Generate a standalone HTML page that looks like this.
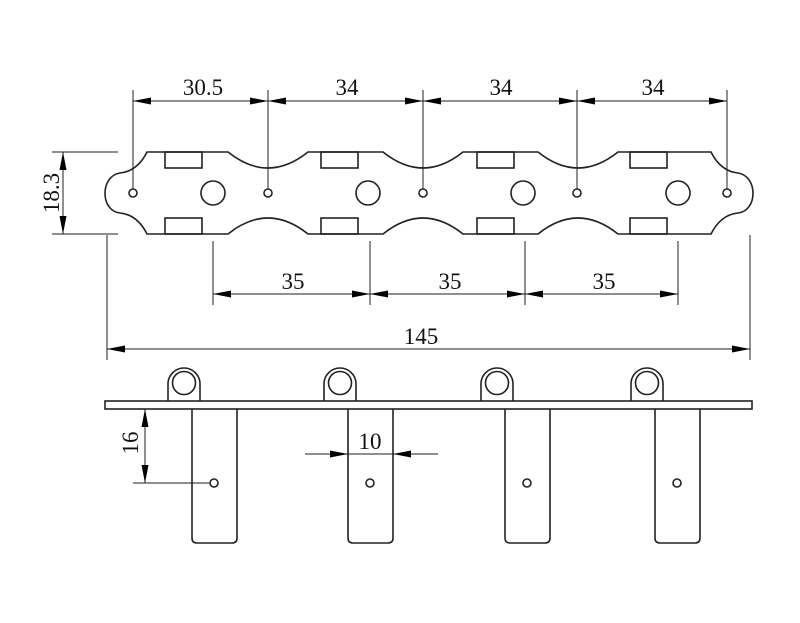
<!DOCTYPE html>
<html><head><style>html,body{margin:0;padding:0;background:#fff}svg{display:block}</style></head><body>
<svg width="800" height="623" viewBox="0 0 800 623" xmlns="http://www.w3.org/2000/svg">
<defs>
<marker id="a" viewBox="0 0 10 10" refX="10" refY="5" markerWidth="18" markerHeight="7" markerUnits="userSpaceOnUse" preserveAspectRatio="none" orient="auto-start-reverse"><path d="M0,0 L10,5 L0,10 Z" fill="#000"/></marker>
</defs>
<g fill="none" stroke="#222" stroke-width="1.6">
<path d="M147,152 L228,152 Q268,184 308,152 L383,152 Q423,184 463,152 L538,152 Q578,184 618,152 L711,152 C718,166 728,172 738,173 C758,176 758,211 738,213 C728,214 718,220 711,234 L618,234 Q578,202 538,234 L463,234 Q423,202 383,234 L308,234 Q268,202 228,234 L147,234 C140,220 130,214 120,213 C100,211 100,176 120,173 C130,172 140,166 147,152 Z"/>
<circle cx="133" cy="193" r="4"/><circle cx="268" cy="193" r="4"/><circle cx="423" cy="193" r="4"/><circle cx="577" cy="193" r="4"/><circle cx="727" cy="193" r="4"/>
<circle cx="213" cy="193" r="12"/><circle cx="368" cy="193" r="12"/><circle cx="523" cy="193" r="12"/><circle cx="678" cy="193" r="12"/>
<rect x="165" y="152" width="37" height="16"/><rect x="321" y="152" width="37" height="16"/><rect x="477" y="152" width="37" height="16"/><rect x="630" y="152" width="37" height="16"/>
<rect x="165" y="218" width="37" height="16"/><rect x="321" y="218" width="37" height="16"/><rect x="477" y="218" width="37" height="16"/><rect x="630" y="218" width="37" height="16"/>
<rect x="105" y="401" width="647" height="8"/>
<g id="k">
<path d="M192,409 L192,538 Q192,543 197,543 L232,543 Q237,543 237,538 L237,409"/>
<path d="M168,401 L168,384 A16,16 0 0 1 200,384 L200,401"/>
<circle cx="184" cy="383" r="11.5"/>
<circle cx="214" cy="483" r="4"/>
</g>
<use href="#k" x="156"/><use href="#k" x="313"/><use href="#k" x="463"/>
</g>
<g stroke="#222" stroke-width="1" fill="none">
<line x1="133" y1="90" x2="133" y2="189"/><line x1="268" y1="90" x2="268" y2="189"/><line x1="423" y1="90" x2="423" y2="189"/><line x1="577" y1="90" x2="577" y2="189"/><line x1="727" y1="90" x2="727" y2="189"/>
<line x1="133" y1="101" x2="268" y2="101" marker-start="url(#a)" marker-end="url(#a)"/>
<line x1="268" y1="101" x2="423" y2="101" marker-start="url(#a)" marker-end="url(#a)"/>
<line x1="423" y1="101" x2="577" y2="101" marker-start="url(#a)" marker-end="url(#a)"/>
<line x1="577" y1="101" x2="727" y2="101" marker-start="url(#a)" marker-end="url(#a)"/>
<line x1="52" y1="152" x2="118" y2="152"/><line x1="52" y1="234" x2="118" y2="234"/>
<line x1="63" y1="152" x2="63" y2="234" marker-start="url(#a)" marker-end="url(#a)"/>
<line x1="213" y1="241" x2="213" y2="305"/><line x1="370" y1="241" x2="370" y2="305"/><line x1="525" y1="241" x2="525" y2="305"/><line x1="678" y1="241" x2="678" y2="305"/>
<line x1="213" y1="294" x2="370" y2="294" marker-start="url(#a)" marker-end="url(#a)"/>
<line x1="370" y1="294" x2="525" y2="294" marker-start="url(#a)" marker-end="url(#a)"/>
<line x1="525" y1="294" x2="678" y2="294" marker-start="url(#a)" marker-end="url(#a)"/>
<line x1="107" y1="235" x2="107" y2="360"/><line x1="750" y1="235" x2="750" y2="360"/>
<line x1="107" y1="349" x2="750" y2="349" marker-start="url(#a)" marker-end="url(#a)"/>
<line x1="133" y1="483" x2="209" y2="483"/>
<line x1="145" y1="409" x2="145" y2="483" marker-start="url(#a)" marker-end="url(#a)"/>
<line x1="305" y1="454" x2="348" y2="454" marker-end="url(#a)"/>
<line x1="438" y1="454" x2="393" y2="454" marker-end="url(#a)"/>
<line x1="348" y1="454" x2="393" y2="454"/>
</g>
<g font-family="'Liberation Serif', serif" font-size="23" fill="#111" text-anchor="middle">
<text x="203" y="95">30.5</text><text x="347" y="95">34</text><text x="501" y="95">34</text><text x="653" y="95">34</text>
<text x="293" y="289">35</text><text x="450" y="289">35</text><text x="604" y="289">35</text>
<text x="421" y="344">145</text>
<text x="370" y="449">10</text>
<text transform="translate(59,193) rotate(-90)">18.3</text>
<text transform="translate(138,443) rotate(-90)">16</text>
</g>
</svg>
</body></html>
